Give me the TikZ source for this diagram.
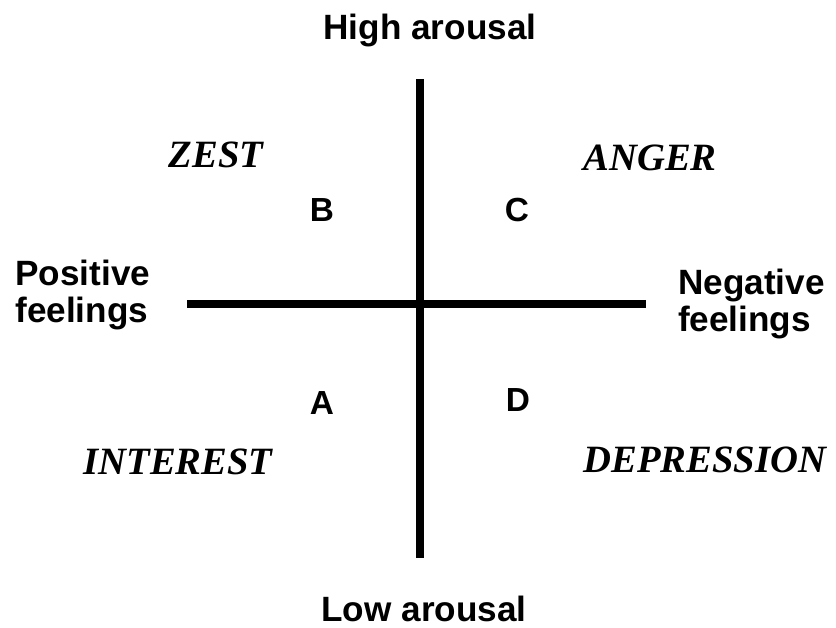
\documentclass[tikz,border=0pt]{standalone}
\usepackage{fontspec}
\setmainfont{Liberation Sans}
\newfontfamily\moodfont{Liberation Serif}
\begin{document}
\begin{tikzpicture}[x=0.02cm,y=-0.02cm,
  axislabel/.style={font=\bfseries\fontsize{20}{21.5}\selectfont, inner sep=0pt, align=left},
  quad/.style={font=\bfseries\fontsize{19}{19}\selectfont, inner sep=0pt},
  mood/.style={font=\moodfont\bfseries\itshape\fontsize{22}{22}\selectfont, inner sep=0pt, anchor=base},
  axis/.style={line width=4.2pt}]
\useasboundingbox (0,0) rectangle (836,628);
\coordinate (top) at (420,79);
\coordinate (bot) at (420,558);
\coordinate (lft) at (187,304);
\coordinate (rgt) at (646,304);
\draw[axis] (top) -- (bot);
\draw[axis] (lft) -- (rgt);
\node[axislabel, anchor=base] (high) at (430,40) {High arousal};
\node[axislabel, anchor=base] (low) at (424,622) {Low arousal};
\node[axislabel, anchor=base west] (pos) at (15,323) {Positive\\feelings};
\node[axislabel, anchor=base east] (neg) at (825,332) {Negative\\feelings};
\node[quad] (B) at (322,210) {B};
\node[quad] (C) at (517,210) {C};
\node[quad] (A) at (322,403) {A};
\node[quad] (D) at (518,400) {D};
\node[mood] (zest) at (216,168) {ZEST};
\node[mood] (anger) at (650,171) {ANGER};
\node[mood] (interest) at (178,475) {INTEREST};
\node[mood] (depr) at (705,473) {DEPRESSION};
\end{tikzpicture}
\end{document}
